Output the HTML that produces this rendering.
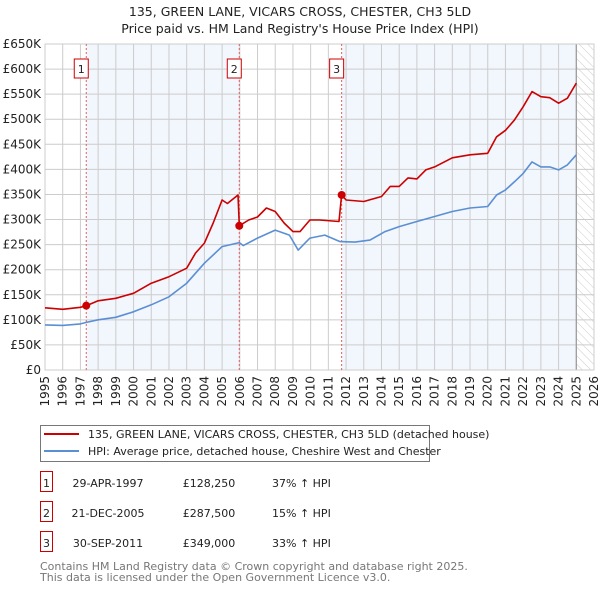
<!DOCTYPE html>
<html><head><meta charset="utf-8"><style>
body{margin:0;background:#fff;font-family:"Liberation Sans","DejaVu Sans",sans-serif;}
svg text{font-family:"DejaVu Sans","Liberation Sans",sans-serif;}
</style></head><body>
<svg id="c" width="600" height="590" xmlns="http://www.w3.org/2000/svg">
<text x="300" y="16" text-anchor="middle" font-size="12.5" fill="#222">135, GREEN LANE, VICARS CROSS, CHESTER, CH3 5LD</text>
<text x="300" y="33" text-anchor="middle" font-size="12.5" fill="#222">Price paid vs. HM Land Registry's House Price Index (HPI)</text>
<g id="plot"></g>
<g>
<rect x="40.5" y="425.5" width="389" height="36" fill="#fff" stroke="#777"/>
<line x1="44" y1="434" x2="79" y2="434" stroke="#cc0000" stroke-width="2"/>
<text x="88" y="438" font-size="11" fill="#222">135, GREEN LANE, VICARS CROSS, CHESTER, CH3 5LD (detached house)</text>
<line x1="44" y1="451" x2="79" y2="451" stroke="#5b8fd4" stroke-width="2"/>
<text x="88" y="455" font-size="11" fill="#222">HPI: Average price, detached house, Cheshire West and Chester</text>
</g>
<g id="table" font-size="11" fill="#222"></g>
<text x="40" y="570" font-size="11" fill="#777">Contains HM Land Registry data © Crown copyright and database right 2025.</text>
<text x="40" y="581" font-size="11" fill="#777">This data is licensed under the Open Government Licence v3.0.</text>
</svg>
<script>
const hpiYears=[1995,1996,1997,1997.33,1998,1999,2000,2001,2002,2003,2004,2005,2005.97,2006.2,2007,2008,2008.8,2009.3,2009.96,2010.8,2011.66,2012.5,2013.35,2014.2,2015,2016,2017,2018,2019,2020,2020.5,2021,2021.5,2022,2022.5,2023,2023.5,2024,2024.5,2025];
const hpiValues=[90,89,92,95,100,105,116,130,146,173,213,246,254,248,263,279,269,239,263,269,256,255,259,276,286,296,306,316,323,326,349,359,375,392,415,405,405,399,409,429];
const redYears=[1995,1996,1997,1997.33,1998,1999,2000,2001,2002,2003,2003.5,2004,2004.5,2005,2005.3,2005.9,2005.97,2006.5,2007,2007.5,2008,2008.5,2009,2009.4,2009.96,2010.5,2011.6,2011.75,2012,2013,2014,2014.5,2015,2015.5,2016,2016.5,2017,2018,2019,2020,2020.5,2021,2021.5,2022,2022.5,2023,2023.5,2024,2024.5,2025];
const redValues=[124,121,125,128.25,138,143,153,173,186,203,233,253,293,339,332,349,287.5,299,305,323,316,293,276,276,299,299,296,349,339,336,346,366,366,383,381,399,405,423,429,432,465,478,498,525,555,545,543,532,542,572];
const saleYears=[1997.33,2005.97,2011.75];
const saleValues=[128.25,287.5,349];
const saleLabels=["1","2","3"];
const saleDates=["29-APR-1997","21-DEC-2005","30-SEP-2011"];
const salePrices=["£128,250","£287,500","£349,000"];
const salePcts=["37% ↑ HPI","15% ↑ HPI","33% ↑ HPI"];
const yTicks=[0,50,100,150,200,250,300,350,400,450,500,550,600,650];
const yTickLabels=["£0","£50K","£100K","£150K","£200K","£250K","£300K","£350K","£400K","£450K","£500K","£550K","£600K","£650K"];
const xTicks=[1995,1996,1997,1998,1999,2000,2001,2002,2003,2004,2005,2006,2007,2008,2009,2010,2011,2012,2013,2014,2015,2016,2017,2018,2019,2020,2021,2022,2023,2024,2025,2026];

const L=45,R=594,T=44,B=370,x0=1995,x1=2026,ymax=650;
const X=v=>L+(v-x0)/(x1-x0)*(R-L);
const Y=v=>B-v/ymax*(B-T);
const NS="http://www.w3.org/2000/svg";
const g=document.getElementById('plot');
function mk(t,a,p){const e=document.createElementNS(NS,t);for(const k in a)e.setAttribute(k,a[k]);(p||g).appendChild(e);return e;}
const s1=mk('rect',{x:X(saleYears[0]),y:T,width:X(saleYears[1])-X(saleYears[0]),height:B-T,fill:'#f2f6fd'});


const s3=mk('rect',{x:X(saleYears[2]),y:T,width:X(2025)-X(saleYears[2]),height:B-T,fill:'#f2f6fd'});


const defs=mk('defs',{});
const pat=mk('pattern',{id:'h',width:6,height:6,patternUnits:'userSpaceOnUse',patternTransform:'rotate(-45)'},defs);
mk('line',{x1:0,y1:0,x2:0,y2:6,stroke:'#ccc','stroke-width':1},pat);
const hz=mk('rect',{x:X(2025),y:T,width:R-X(2025),height:B-T,fill:'url(#h)'});


yTicks.forEach((v,i)=>{
 const ln=mk('line',{x1:L,x2:R,y1:Y(v),y2:Y(v),stroke:'#ccc','stroke-width':1});
 
 
 const t=mk('text',{x:L-4,y:Y(v)+4,'text-anchor':'end','font-size':12,fill:'#222'});
 t.textContent=yTickLabels[i];
 
 
});
xTicks.forEach(v=>{
 const ln=mk('line',{x1:X(v),x2:X(v),y1:T,y2:B,stroke:'#ccc','stroke-width':1});
 
 
 const t=mk('text',{x:0,y:0,'text-anchor':'end','font-size':12,fill:'#222',transform:`translate(${X(v)+4},${B+6}) rotate(-90)`});
 t.textContent=v;
 
 
});
const nl=mk('line',{x1:X(2025),x2:X(2025),y1:T,y2:B,stroke:'#999','stroke-width':1.2});


const fr=mk('rect',{x:L,y:T,width:R-L,height:B-T,fill:'none',stroke:'#ccc'});


saleYears.forEach((v,i)=>{
 const ln=mk('line',{x1:X(v),x2:X(v),y1:T,y2:B,stroke:'#e06060','stroke-dasharray':'2,2','stroke-width':1});
 
 
 const bx=X(v)-8;
 const r=mk('rect',{x:bx-4,y:59,width:14,height:19,fill:'#fff',stroke:'#cc0000'});
 
 
 const t=mk('text',{x:bx+3,y:73,'text-anchor':'middle','font-size':11,fill:'#222'});
 t.textContent=saleLabels[i];
 
 
});
function path(xs,ys,col,name){
 const d=xs.map((x,i)=>(i?'L':'M')+X(x).toFixed(1)+','+Y(ys[i]).toFixed(1)).join('');
 const p=mk('path',{d,fill:'none',stroke:col,'stroke-width':1.6,'stroke-linejoin':'round'});
 
 
}
path(hpiYears,hpiValues,'#5b8fd4','hpi-line');
path(redYears,redValues,'#cc0000','property-price-line');
saleYears.forEach((v,i)=>{
 const c=mk('circle',{cx:X(v),cy:Y(saleValues[i]),r:4,fill:'#cc0000'});
 
 
});
const tb=document.getElementById('table');
saleLabels.forEach((lab,i)=>{
 const y=483+i*30;
 const r=mk('rect',{x:40.5,y:y-11.5,width:12,height:20,fill:'#fff',stroke:'#cc0000'},tb);
 
 
 const cols=[[46.5,lab,'middle'],[108,saleDates[i],'middle'],[209,salePrices[i],'middle'],[272,salePcts[i],'start']];
 cols.forEach(c=>{
  const t=mk('text',{x:c[0],y:y+4,'text-anchor':c[2],'font-size':11,fill:'#222'},tb);
  t.textContent=c[1];
  
  
 });
});
</script>
</body></html>
